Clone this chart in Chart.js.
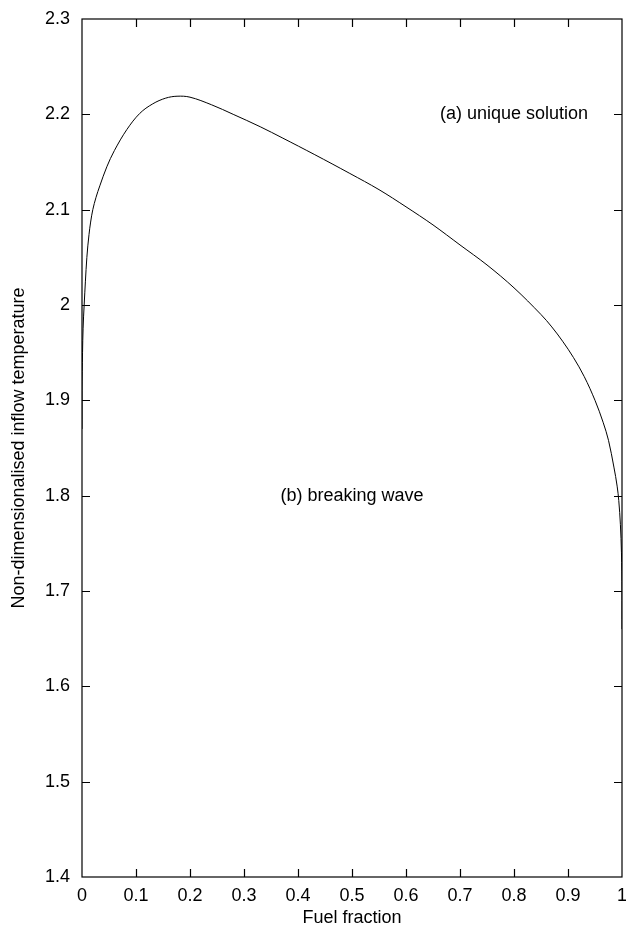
<!DOCTYPE html>
<html>
<head>
<meta charset="utf-8">
<script src="https://cdn.jsdelivr.net/npm/chart.js@4"></script>
<style>
  html, body { margin: 0; padding: 0; background: #fff; }
  #wrap { width: 626px; height: 931px; }
</style>
</head>
<body>
<div id="wrap"><canvas id="myChart" width="626" height="931"></canvas></div>
<script>
// curve
var fuelFraction = [0, 0, 0.001, 0.002, 0.004, 0.009, 0.013, 0.016, 0.02, 0.026, 0.033, 0.046, 0.06, 0.083, 0.107,
  0.131, 0.155, 0.176, 0.2, 0.24, 0.28, 0.33, 0.372, 0.43, 0.496, 0.55, 0.6, 0.65, 0.7, 0.75, 0.8, 0.85, 0.87,
  0.89, 0.91, 0.93, 0.95, 0.965, 0.975, 0.985, 0.991, 0.994, 0.997, 0.999, 1.0, 1.0];
var inflowTemp = [1.87, 1.91, 1.95, 1.975, 2.0, 2.05, 2.074, 2.087, 2.1, 2.113, 2.125, 2.145, 2.162, 2.184, 2.201,
  2.211, 2.217, 2.219, 2.218, 2.21, 2.2, 2.187, 2.175, 2.158, 2.138, 2.121, 2.103, 2.084, 2.063, 2.042, 2.018, 1.99, 1.977,
  1.962, 1.945, 1.925, 1.9, 1.877, 1.858, 1.83, 1.81, 1.795, 1.77, 1.74, 1.70, 1.66];

var xTicks = [0, 0.1, 0.2, 0.3, 0.4, 0.5, 0.6, 0.7, 0.8, 0.9, 1];
var yTicks = [1.4, 1.5, 1.6, 1.7, 1.8, 1.9, 2, 2.1, 2.2, 2.3];

// region labels, in data units
var regionLabels = ['(a) unique solution', '(b) breaking wave'];
var regionX = [0.8, 0.5];
var regionY = [2.2, 1.8];

var FONT = "'Liberation Sans', Arial, sans-serif";
var FSIZE = 18;

function fmt(v) { return String(Number(Number(v).toFixed(1))); }

// frame, inward ticks and the two labels
var framePlugin = {
  id: 'frame',
  afterDraw: function(chart) {
    var c = chart.ctx, a = chart.chartArea;
    var xs = chart.scales.x, ys = chart.scales.y;
    var len = 8;
    c.save();
    c.strokeStyle = '#000';
    c.lineWidth = 1.2;
    c.strokeRect(a.left, a.top, a.right - a.left, a.bottom - a.top);
    c.beginPath();
    xTicks.forEach(function(t) {
      if (t === 0 || t === 1) return;
      var px = Math.round(xs.getPixelForValue(t)) + 0.5;
      c.moveTo(px, a.bottom); c.lineTo(px, a.bottom - len);
      c.moveTo(px, a.top); c.lineTo(px, a.top + len);
    });
    yTicks.forEach(function(t) {
      if (t === 1.4 || t === 2.3) return;
      var py = Math.round(ys.getPixelForValue(t)) + 0.5;
      c.moveTo(a.left, py); c.lineTo(a.left + len, py);
      c.moveTo(a.right, py); c.lineTo(a.right - len, py);
    });
    c.stroke();
    c.fillStyle = '#000';
    c.font = FSIZE + 'px ' + FONT;
    c.textAlign = 'center';
    c.textBaseline = 'middle';
    regionLabels.forEach(function(s, i) {
      c.fillText(s, xs.getPixelForValue(regionX[i]), ys.getPixelForValue(regionY[i]));
    });
    c.restore();
  }
};

var ctx = document.getElementById('myChart').getContext('2d');
var myChart = new Chart(ctx, {
  type: 'line',
  data: {
    datasets: [{
      data: fuelFraction.map(function(f, i) { return { x: f, y: inflowTemp[i] }; }),
      borderColor: '#000',
      borderWidth: 1,
      pointRadius: 0,
      tension: 0.35,
      fill: false
    }]
  },
  options: {
    responsive: false,
    animation: false,
    layout: { padding: { top: 19, right: 4, left: 0, bottom: 0 } },
    plugins: {
      legend: { display: false },
      tooltip: { enabled: false }
    },
    scales: {
      x: {
        type: 'linear',
        min: 0, max: 1,
        afterBuildTicks: function(s) { s.ticks = xTicks.map(function(v) { return { value: v }; }); },
        afterFit: function(s) { s.height = 54; s.paddingLeft = 0; s.paddingRight = 0; },
        grid: { display: false, drawTicks: false },
        border: { display: false },
        ticks: { color: '#000', padding: 8, maxRotation: 0, font: { family: FONT, size: FSIZE }, callback: fmt },
        title: { display: true, text: 'Fuel fraction', color: '#000', padding: { top: 0, bottom: 2 }, font: { family: FONT, size: FSIZE } }
      },
      y: {
        type: 'linear',
        min: 1.4, max: 2.3,
        afterBuildTicks: function(s) { s.ticks = yTicks.map(function(v) { return { value: v }; }); },
        afterFit: function(s) { s.width = 82; s.paddingTop = 0; s.paddingBottom = 0; },
        grid: { display: false, drawTicks: false },
        border: { display: false },
        ticks: { color: '#000', padding: 12, font: { family: FONT, size: FSIZE }, callback: fmt },
        title: { display: true, text: 'Non-dimensionalised inflow temperature', color: '#000', padding: { top: 8, bottom: 0 }, font: { family: FONT, size: FSIZE } }
      }
    }
  },
  plugins: [framePlugin]
});
</script>
</body>
</html>
